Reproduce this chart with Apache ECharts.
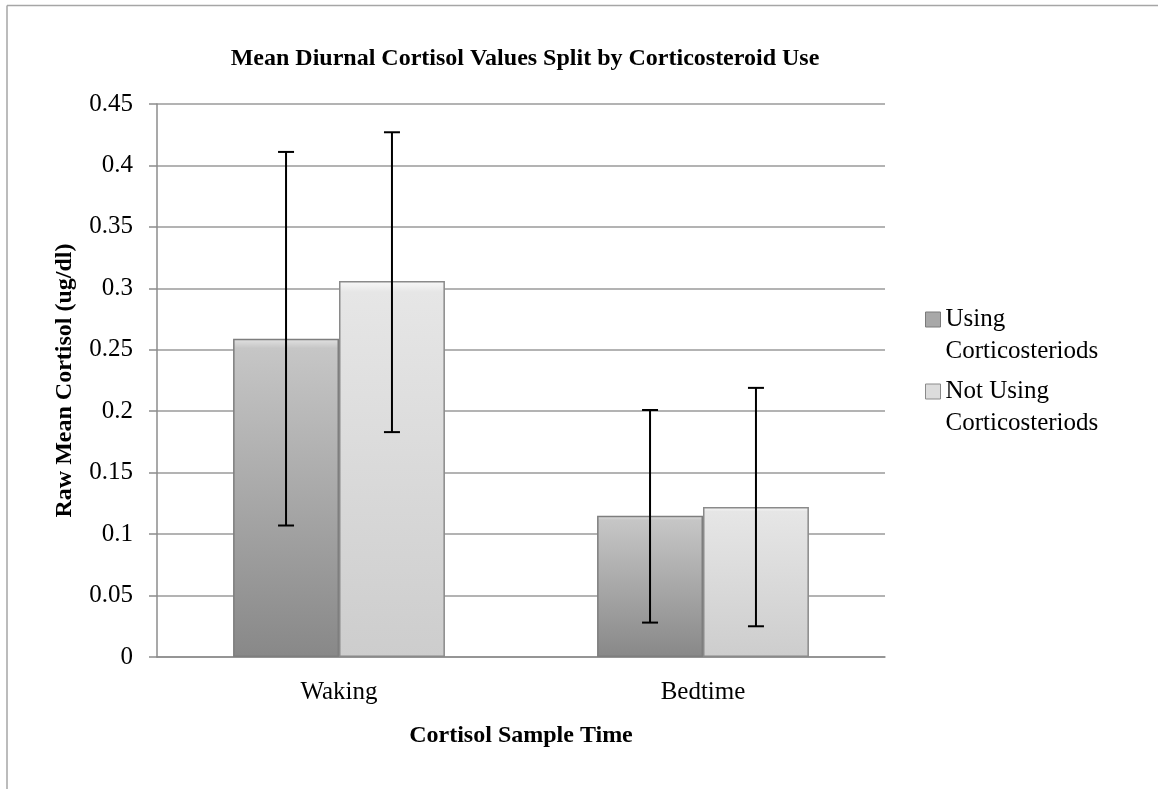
<!DOCTYPE html>
<html>
<head>
<meta charset="utf-8">
<title>cortisol</title>
<script src="https://cdn.jsdelivr.net/npm/echarts@6/dist/echarts.min.js"></script>
<style>
  html, body { margin: 0; padding: 0; background: #fff; }
  #main { width: 1158px; height: 789px; }
</style>
</head>
<body>
<div id="main"></div>
<script>
// data
var categories = ['Waking', 'Bedtime'];
var seriesNames = ['Using\nCorticosteriods', 'Not Using\nCorticosteriods'];
var usingMean = [0.259, 0.115];
var notUsingMean = [0.306, 0.122];
var usingErrLow = [0.107, 0.028];
var usingErrHigh = [0.411, 0.201];
var notUsingErrLow = [0.183, 0.025];
var notUsingErrHigh = [0.427, 0.219];

var FONT = 'Liberation Serif';
var BAR_PCT = 0.291;

var myChart = echarts.init(document.getElementById('main'));

function errData(low, high) {
  return categories.map(function (c, i) { return [i, low[i], high[i]]; });
}

function errRender(side) {
  return function (params, api) {
    var band = api.size([1, 0])[0];
    var off = side * band * BAR_PCT / 2;
    var lo = api.coord([api.value(0), api.value(1)]);
    var hi = api.coord([api.value(0), api.value(2)]);
    var x = lo[0] + off;
    var cap = 8;
    var st = { stroke: '#000', lineWidth: 2 };
    return {
      type: 'group',
      children: [
        { type: 'line', shape: { x1: x, y1: lo[1], x2: x, y2: hi[1] }, style: st },
        { type: 'line', shape: { x1: x - cap, y1: lo[1], x2: x + cap, y2: lo[1] }, style: st },
        { type: 'line', shape: { x1: x - cap, y1: hi[1], x2: x + cap, y2: hi[1] }, style: st }
      ]
    };
  };
}

// square at the first text line, invisible moveTo points stretch the box
var legendIcon = 'path://M0,0M0,8.5H15V23.5H0Z M15,64';

option = {
  animation: false,
  title: {
    text: 'Mean Diurnal Cortisol Values Split by Corticosteroid Use',
    left: 520,
    top: 42,
    textAlign: 'center',
    textStyle: { fontFamily: FONT, fontSize: 24, fontWeight: 'bold', color: '#000' }
  },
  legend: {
    orient: 'vertical',
    left: 925,
    top: 303,
    padding: 0,
    itemGap: 7,
    itemWidth: 15,
    itemHeight: 64,
    icon: legendIcon,
    textStyle: { fontFamily: FONT, fontSize: 25, lineHeight: 32, color: '#000' },
    data: [
      { name: seriesNames[0], itemStyle: { color: '#a8a8a8', borderColor: '#7a7a7a', borderWidth: 1 } },
      { name: seriesNames[1], itemStyle: { color: '#dcdcdc', borderColor: '#8a8a8a', borderWidth: 1 } }
    ]
  },
  grid: { left: 157, right: 273, top: 104, bottom: 132 },
  xAxis: {
    type: 'category',
    data: categories,
    name: 'Cortisol Sample Time',
    nameLocation: 'middle',
    nameGap: 67,
    nameTextStyle: { fontFamily: FONT, fontSize: 24, fontWeight: 'bold', color: '#000' },
    axisLine: { lineStyle: { color: '#8c8c8c', width: 1.5 } },
    axisTick: { show: false },
    axisLabel: { fontFamily: FONT, fontSize: 25, color: '#000', margin: 23 }
  },
  yAxis: {
    type: 'value',
    min: 0,
    max: 0.45,
    interval: 0.05,
    name: 'Raw Mean Cortisol (ug/dl)',
    nameLocation: 'middle',
    nameGap: 80,
    nameTextStyle: { fontFamily: FONT, fontSize: 24, fontWeight: 'bold', color: '#000' },
    axisLine: { show: true, lineStyle: { color: '#8c8c8c', width: 1.5 } },
    axisTick: { show: true, length: 8, lineStyle: { color: '#8c8c8c', width: 1.5 } },
    axisLabel: {
      fontFamily: FONT, fontSize: 25, color: '#000', margin: 24,
      formatter: function (v) { return String(+v.toFixed(2)); }
    },
    splitLine: { lineStyle: { color: '#9a9a9a', width: 1.5 } }
  },
  series: [
    {
      name: seriesNames[0],
      type: 'bar',
      data: usingMean,
      barWidth: (BAR_PCT * 100) + '%',
      barGap: '0%',
      itemStyle: {
        color: new echarts.graphic.LinearGradient(0, 0, 0, 1, [
          { offset: 0, color: '#e2e2e2' },
          { offset: 0.03, color: '#c6c6c6' },
          { offset: 1, color: '#888888' }
        ]),
        borderColor: '#7e7e7e',
        borderWidth: 1.5
      }
    },
    {
      name: seriesNames[1],
      type: 'bar',
      data: notUsingMean,
      barWidth: (BAR_PCT * 100) + '%',
      barGap: '0%',
      itemStyle: {
        color: new echarts.graphic.LinearGradient(0, 0, 0, 1, [
          { offset: 0, color: '#f8f8f8' },
          { offset: 0.03, color: '#e6e6e6' },
          { offset: 1, color: '#cdcdcd' }
        ]),
        borderColor: '#8a8a8a',
        borderWidth: 1.5
      }
    },
    {
      type: 'custom',
      renderItem: errRender(-1),
      data: errData(usingErrLow, usingErrHigh),
      z: 10
    },
    {
      type: 'custom',
      renderItem: errRender(1),
      data: errData(notUsingErrLow, notUsingErrHigh),
      z: 10
    }
  ],
  graphic: [
    { type: 'line', shape: { x1: 7, y1: 5.5, x2: 1158, y2: 5.5 }, style: { stroke: '#a6a6a6', lineWidth: 1.5 } },
    { type: 'line', shape: { x1: 7, y1: 5.5, x2: 7, y2: 789 }, style: { stroke: '#a6a6a6', lineWidth: 1.5 } }
  ]
};
myChart.setOption(option);
</script>
</body>
</html>
